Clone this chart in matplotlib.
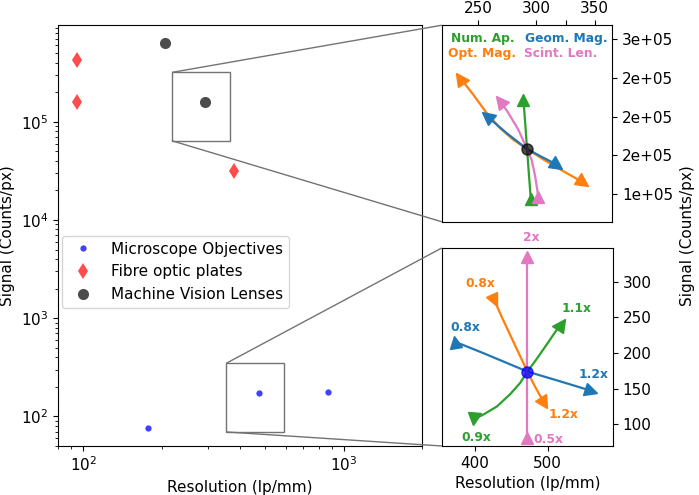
import matplotlib
matplotlib.use('Agg')
import matplotlib.pyplot as plt
from matplotlib.markers import MarkerStyle
from matplotlib.transforms import Affine2D
from matplotlib.ticker import FormatStrFormatter
from mpl_toolkits.axes_grid1.inset_locator import mark_inset


# main plot data (resolution in lp/mm, signal in counts/px)
microscope_res = [177, 472, 871]
microscope_sig = [77, 174, 177]
fibre_res = [95, 95, 380]
fibre_sig = [427000, 158000, 31600]
lens_res = [206, 292]
lens_sig = [630000, 158000]

# top inset: machine vision lens, parameter sweeps
lens_centre = (292, 158000)
top_na_res = [288.9, 290.5, 292, 293.6, 295.2]
top_na_sig = [221800, 190000, 158000, 125000, 93800]
top_geom_res = [257.7, 275, 292, 305, 317.4]
top_geom_sig = [200300, 178000, 158000, 147500, 138000]
top_opt_res = [234.9, 246, 257.4, 268.7, 280, 292, 306, 323, 339.6]
top_opt_sig = [249700, 228200, 204600, 185300, 170200, 158000, 144500, 129400, 115200]
top_scint_res = [269, 275, 284.5, 292, 296, 299, 301.7]
top_scint_sig = [219600, 207000, 183100, 158000, 143800, 122400, 95900]

# bottom inset: microscope objective, parameter sweeps
obj_centre = (472, 174)
bot_geom_res = [372, 411, 472, 518, 560]
bot_geom_sig = [216, 200, 174, 160, 147]
bot_opt_res = [426, 437, 448, 460, 472, 483, 495]
bot_opt_sig = [275, 250, 226, 200, 174, 152, 130]
bot_na_res = [398, 412, 430, 448, 462, 472, 485, 500, 518]
bot_na_sig = [107, 114, 125, 142, 158, 174, 192, 214, 241]
bot_scint_res = [472, 472, 472]
bot_scint_sig = [81, 174, 335]

bot_labels = [
    ('0.8x', 386, 236, 'tab:blue'),
    ('1.2x', 563, 170, 'tab:blue'),
    ('0.8x', 407, 298, 'tab:orange'),
    ('1.2x', 522, 114, 'tab:orange'),
    ('1.1x', 540, 262, 'tab:green'),
    ('0.9x', 402, 82, 'tab:green'),
    ('2x', 477, 362, 'tab:pink'),
    ('0.5x', 501, 79, 'tab:pink'),
]


def arrow_marker(apex_deg):
    # '^' points up, rotate so the tip points along apex_deg
    return MarkerStyle('^', transform=Affine2D().rotate_deg(apex_deg - 90))


def sweep(ax, xs, ys, color, start_dir, end_dir):
    ax.plot(xs, ys, color=color, lw=1.6, zorder=2)
    ax.plot(xs[0], ys[0], marker=arrow_marker(start_dir), ms=9, color=color, zorder=3)
    ax.plot(xs[-1], ys[-1], marker=arrow_marker(end_dir), ms=9, color=color, zorder=3)


fig = plt.figure(figsize=(6.99, 4.95), dpi=100)
ax = fig.add_axes([0.083, 0.099, 0.521, 0.850])
ax_top = fig.add_axes([0.632, 0.552, 0.244, 0.397])
ax_bot = fig.add_axes([0.632, 0.099, 0.245, 0.400])

ax.plot(microscope_res, microscope_sig, 'o', color='b', alpha=0.75, ms=4.5,
        mew=0, label='Microscope Objectives')
ax.plot(fibre_res, fibre_sig, 'd', color='r', alpha=0.7, ms=8.5,
        mew=0, label='Fibre optic plates')
ax.plot(lens_res, lens_sig, 'o', color='k', alpha=0.7, ms=8,
        mew=0, label='Machine Vision Lenses')
ax.set_xscale('log')
ax.set_yscale('log')
ax.set_xlim(80, 2000)
ax.set_ylim(50, 9.6e5)
ax.set_xlabel('Resolution (lp/mm)', fontsize=11)
ax.set_ylabel('Signal (Counts/px)', fontsize=11)
ax.tick_params(labelsize=11)
ax.legend(loc='upper left', bbox_to_anchor=(0.01, 0.50), borderaxespad=0,
          fontsize=11)

# top inset
sweep(ax_top, top_opt_res, top_opt_sig, 'tab:orange', 125, -35)
sweep(ax_top, top_geom_res, top_geom_sig, 'tab:blue', 140, -35)
sweep(ax_top, top_na_res, top_na_sig, 'tab:green', 90, 90)
sweep(ax_top, top_scint_res, top_scint_sig, 'tab:pink', 130, 90)
ax_top.plot(*lens_centre, 'o', color='k', alpha=0.7, ms=8, zorder=4)
ax_top.set_xlim(219, 365)
ax_top.set_ylim(64000, 318000)
ax_top.xaxis.tick_top()
ax_top.yaxis.tick_right()
ax_top.set_xticks([250, 300, 325, 350])
ax_top.set_xticklabels(['250', '300', '', '350'])
ax_top.set_yticks([100000, 150000, 200000, 250000, 300000])
ax_top.yaxis.set_major_formatter(FormatStrFormatter('%.0e'))
ax_top.tick_params(labelsize=11)
for txt, xf, yf, c in [('Num. Ap.', 0.239, 0.932, 'tab:green'),
                       ('Geom. Mag.', 0.728, 0.932, 'tab:blue'),
                       ('Opt. Mag.', 0.239, 0.856, 'tab:orange'),
                       ('Scint. Len.', 0.698, 0.856, 'tab:pink')]:
    ax_top.text(xf, yf, txt, color=c, fontsize=8.8, fontweight='bold',
                ha='center', va='center', transform=ax_top.transAxes)

# bottom inset
sweep(ax_bot, bot_geom_res, bot_geom_sig, 'tab:blue', 100, -15)
sweep(ax_bot, bot_opt_res, bot_opt_sig, 'tab:orange', -66, -60)
sweep(ax_bot, bot_na_res, bot_na_sig, 'tab:green', -95, 55)
sweep(ax_bot, bot_scint_res, bot_scint_sig, 'tab:pink', 90, 90)
ax_bot.plot(*obj_centre, 'o', color='b', alpha=0.75, ms=8, zorder=4)
ax_bot.set_xlim(354, 590)
ax_bot.set_ylim(69.5, 347.5)
ax_bot.yaxis.tick_right()
ax_bot.set_xticks([400, 500])
ax_bot.set_yticks([100, 150, 200, 250, 300])
ax_bot.tick_params(labelsize=11)
ax_bot.set_xlabel('Resolution (lp/mm)', fontsize=11)
for txt, x, y, c in bot_labels:
    ax_bot.text(x, y, txt, color=c, fontsize=8.8, fontweight='bold',
                ha='center', va='center', clip_on=False)

mark_inset(ax, ax_top, loc1=2, loc2=3, fc='none', ec='0.45', lw=1.0)
mark_inset(ax, ax_bot, loc1=2, loc2=3, fc='none', ec='0.45', lw=1.0)

fig.text(0.984, 0.525, 'Signal (Counts/px)', rotation=90, ha='center',
         va='center', fontsize=11)

fig.savefig('out.png', dpi=100)
